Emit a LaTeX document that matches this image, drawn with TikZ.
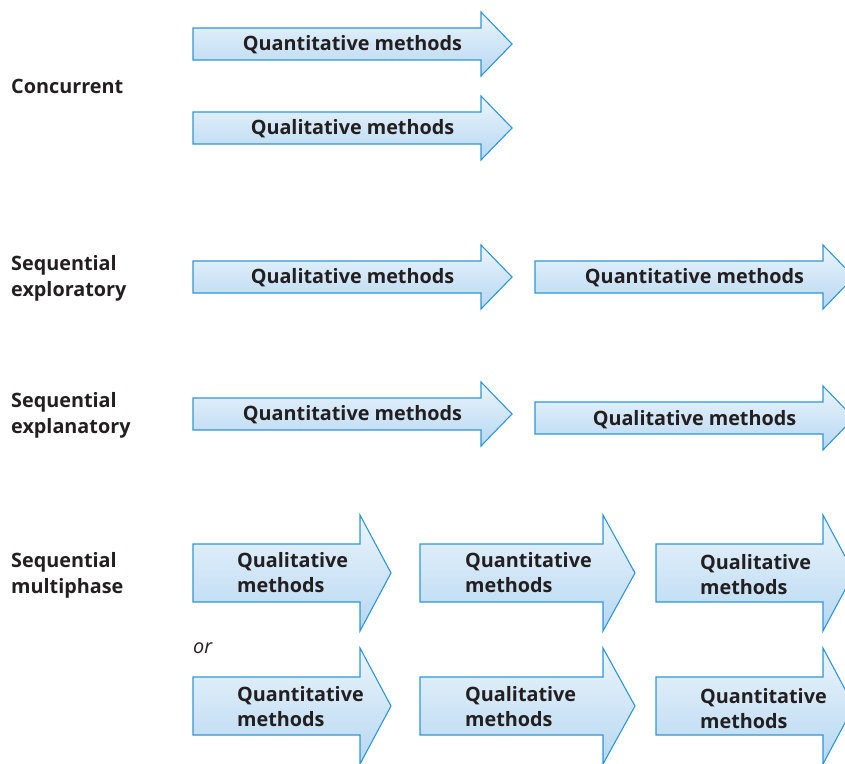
\documentclass[tikz,border=0pt]{standalone}
\usepackage{fontspec}
\setmainfont{Open Sans}
\definecolor{arrowtop}{HTML}{EBF5FC}
\definecolor{arrowbot}{HTML}{B6D7F1}
\definecolor{arrowline}{HTML}{2F96D5}
\definecolor{ink}{HTML}{231F20}
% block arrow: #1 x of tail, #2 y of axis, #3 total length,
% #4 half body width, #5 half head width, #6 head length
\newcommand\blockarrow[6]{%
  \path[arrowbody]
    (#1,#2-#4) -- (#1+#3-#6,#2-#4) -- (#1+#3-#6,#2-#5) -- (#1+#3,#2)
    -- (#1+#3-#6,#2+#5) -- (#1+#3-#6,#2+#4) -- (#1,#2+#4) -- cycle;}
\begin{document}
\begin{tikzpicture}[x=1pt,y=-1pt,
  arrowbody/.style={draw=arrowline, line width=1.1pt, line join=miter,
    top color=arrowtop, bottom color=arrowbot},
  lbl/.style={inner sep=0pt, text=ink, font=\fontsize{19.8}{26}\selectfont\bfseries},
  % multi-line labels are placed by the baseline of their last line
  rowlbl/.style={lbl, align=left, anchor=base west},
  inlbl/.style={lbl, anchor=base},
  twolbl/.style={lbl, font=\fontsize{19.8}{24.5}\selectfont\bfseries, align=left, anchor=base west}]
\useasboundingbox (0,0) rectangle (845,763);
\begin{scope}
\clip (0,0) rectangle (845,763);
% concurrent
\blockarrow{193}{44}{319}{16}{32}{31}
\blockarrow{193}{128}{319}{16}{32}{31}
% sequential exploratory
\blockarrow{193}{277}{319}{16}{32}{31}
\blockarrow{535}{277}{319}{16}{32}{31}
% sequential explanatory
\blockarrow{193}{414}{319}{16}{32}{31}
\blockarrow{535}{418}{319}{16}{32}{31}
% sequential multiphase
\blockarrow{193}{573}{198}{29}{58}{31}
\blockarrow{420}{573}{215}{29}{58}{32}
\blockarrow{656}{573}{198}{29}{58}{31}
\blockarrow{193}{706}{198}{29}{58}{31}
\blockarrow{420}{706}{215}{29}{58}{32}
\blockarrow{656}{706}{198}{29}{58}{31}
\end{scope}

% row labels
\node[rowlbl] (concurrent) at (11,93) {Concurrent};
\node[rowlbl] (explor) at (11,296) {Sequential\\exploratory};
\node[rowlbl] (explan) at (11,433) {Sequential\\explanatory};
\node[rowlbl] (multi) at (11,593) {Sequential\\multiphase};
\node[inner sep=0pt, text=ink, anchor=base west,
  font=\fontsize{19.8}{24}\selectfont\itshape] (or) at (193,653) {or};

% arrow texts
\node[inlbl] (c1) at (352.5,50) {Quantitative methods};
\node[inlbl] (c2) at (352.5,134) {Qualitative methods};
\node[inlbl] (e1) at (352.5,283) {Qualitative methods};
\node[inlbl] (e2) at (694.5,283) {Quantitative methods};
\node[inlbl] (x1) at (352.5,420) {Quantitative methods};
\node[inlbl] (x2) at (694.5,425) {Qualitative methods};
\node[twolbl] (m1) at (237,592) {Qualitative\\methods};
\node[twolbl] (m2) at (465,592) {Quantitative\\methods};
\node[twolbl] (m3) at (700,594) {Qualitative\\methods};
\node[twolbl] (n1) at (237,726) {Quantitative\\methods};
\node[twolbl] (n2) at (465,726) {Qualitative\\methods};
\node[twolbl] (n3) at (700,728) {Quantitative\\methods};
\end{tikzpicture}
\end{document}
